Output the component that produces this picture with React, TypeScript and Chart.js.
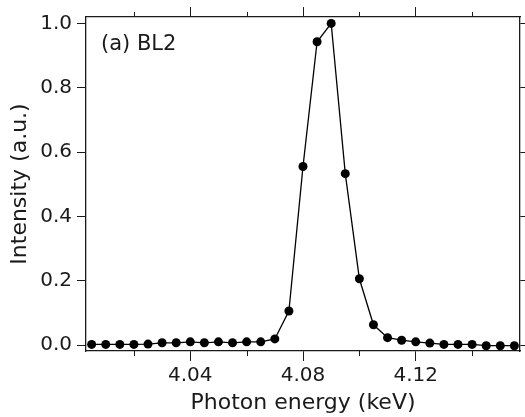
import React, { useEffect, useRef } from "react";
import { Chart, registerables } from "chart.js";

Chart.register(...registerables);

const energies = [
  4.005, 4.01, 4.015, 4.02, 4.025, 4.03, 4.035, 4.04, 4.045, 4.05, 4.055,
  4.06, 4.065, 4.07, 4.075, 4.08, 4.085, 4.09, 4.095, 4.1, 4.105, 4.11,
  4.115, 4.12, 4.125, 4.13, 4.135, 4.14, 4.145, 4.15, 4.155,
];
const intensities = [
  0.002, 0.002, 0.002, 0.002, 0.003, 0.007, 0.007, 0.01, 0.007, 0.01, 0.007,
  0.01, 0.01, 0.019, 0.106, 0.555, 0.943, 1.0, 0.533, 0.206, 0.063, 0.023,
  0.015, 0.01, 0.006, 0.002, 0.002, 0.002, -0.002, -0.002, -0.002,
];
const minorXTicks = [4.02, 4.06, 4.1, 4.14];
const xTitle = "Photon energy (keV)";
const yTitle = "Intensity (a.u.)";
const panelLabel = "(a) BL2";

const FONT = "'DejaVu Sans', sans-serif";
const INK = "#1a1a1a";

export default function App() {
  const ref = useRef<HTMLCanvasElement | null>(null);

  useEffect(() => {
    const canvas = ref.current;
    if (!canvas) return;

    const extras = {
      id: "extras",
      afterDraw(chart: any) {
        const { ctx, chartArea } = chart;
        const xs = chart.scales.x;
        ctx.save();
        ctx.strokeStyle = INK;
        ctx.lineWidth = 1;
        for (const v of minorXTicks) {
          const px = Math.round(xs.getPixelForValue(v)) + 0.5;
          ctx.beginPath();
          ctx.moveTo(px, chartArea.bottom);
          ctx.lineTo(px, chartArea.bottom + 5);
          ctx.moveTo(px, chartArea.top);
          ctx.lineTo(px, chartArea.top - 5);
          ctx.stroke();
        }
        ctx.fillStyle = INK;
        ctx.font = `21px ${FONT}`;
        ctx.textAlign = "left";
        ctx.textBaseline = "alphabetic";
        ctx.fillText(panelLabel, chartArea.left + 15, chartArea.top + 33);
        ctx.restore();
      },
    };

    const chart = new Chart(canvas, {
      type: "line",
      data: {
        datasets: [
          {
            data: energies.map((e, i) => ({ x: e, y: intensities[i] })),
            borderColor: "#000",
            backgroundColor: "#000",
            borderWidth: 1.3,
            pointRadius: 4.5,
            pointBackgroundColor: "#000",
            pointBorderWidth: 0,
            tension: 0,
            fill: false,
          },
        ],
      },
      options: {
        responsive: false,
        animation: false,
        events: [],
        layout: { padding: 0 },
        plugins: { legend: { display: false }, tooltip: { enabled: false } },
        scales: {
          x: {
            type: "linear",
            position: "bottom",
            min: 4.003,
            max: 4.157,
            afterFit: (s: any) => {
              s.height = 66;
            },
            ticks: {
              stepSize: 0.04,
              includeBounds: false,
              maxRotation: 0,
              padding: 3,
              color: INK,
              font: { family: FONT, size: 20 },
              callback: (v: any) => Number(v).toFixed(2),
            },
            grid: {
              drawOnChartArea: false,
              tickLength: 10,
              tickColor: INK,
              tickWidth: 1,
            },
            border: { display: true, color: INK, width: 1.3 },
            title: {
              display: true,
              text: xTitle,
              color: INK,
              font: { family: FONT, size: 22 },
              padding: { top: 0, bottom: 1 },
            },
          },
          x2: {
            type: "linear",
            position: "top",
            min: 4.003,
            max: 4.157,
            afterFit: (s: any) => {
              s.height = 14;
            },
            ticks: { stepSize: 0.04, includeBounds: false, display: false },
            grid: {
              drawOnChartArea: false,
              tickLength: 10,
              tickColor: INK,
              tickWidth: 1,
            },
            border: { display: true, color: INK, width: 1.3 },
          },
          y: {
            type: "linear",
            position: "left",
            min: -0.0185,
            max: 1.02,
            afterFit: (s: any) => {
              s.width = 86;
            },
            ticks: {
              stepSize: 0.2,
              includeBounds: false,
              padding: 5,
              color: INK,
              font: { family: FONT, size: 20 },
              callback: (v: any) => Number(v).toFixed(1),
            },
            grid: {
              drawOnChartArea: false,
              tickLength: 9,
              tickColor: INK,
              tickWidth: 1,
            },
            border: { display: true, color: INK, width: 1.3 },
            title: {
              display: true,
              text: yTitle,
              color: INK,
              font: { family: FONT, size: 22 },
              padding: { top: 7, bottom: 0 },
            },
          },
          y2: {
            type: "linear",
            position: "right",
            min: -0.0185,
            max: 1.02,
            afterFit: (s: any) => {
              s.width = 5;
            },
            ticks: { stepSize: 0.2, includeBounds: false, display: false },
            grid: {
              drawOnChartArea: false,
              tickLength: 9,
              tickColor: INK,
              tickWidth: 1,
            },
            border: { display: true, color: INK, width: 1.3 },
          },
        },
      },
      plugins: [extras],
    } as any);

    return () => chart.destroy();
  }, []);

  return (
    <div style={{ position: "fixed", left: 0, top: 0, width: 525, height: 417, background: "#fff" }}>
      <canvas ref={ref} width={525} height={417} style={{ display: "block" }} />
    </div>
  );
}
